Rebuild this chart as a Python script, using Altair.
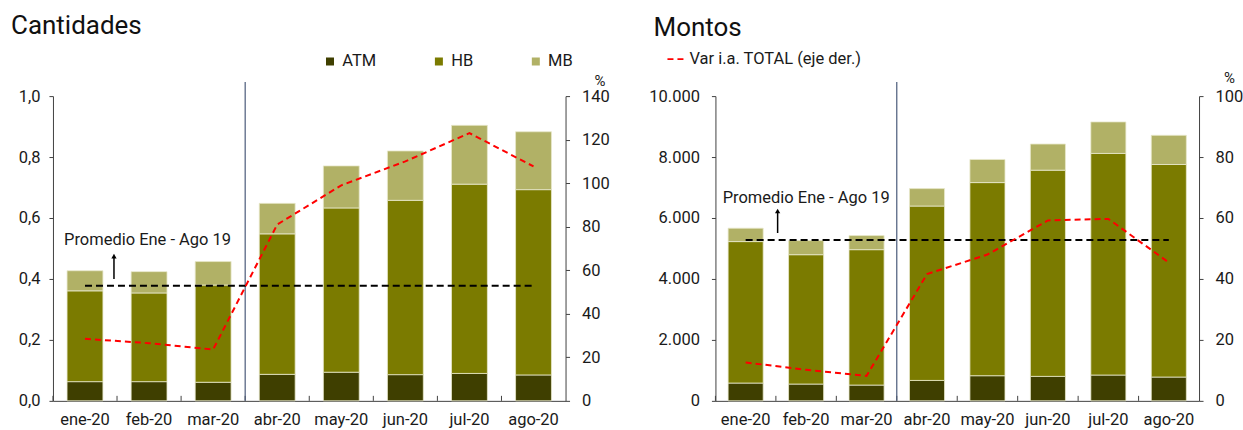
import altair as alt
import pandas as pd

meses = ["ene-20", "feb-20", "mar-20", "abr-20", "may-20", "jun-20", "jul-20", "ago-20"]
series = ["ATM", "HB", "MB"]
colores = ["#3f3f00", "#7b7b00", "#b1b166"]
linea_label = "Var i.a. TOTAL (eje der.)"
promedio_label = "Promedio Ene - Ago 19"

# Cantidades (left axis) and Var i.a. (%) right axis
cant_atm = [0.063, 0.063, 0.061, 0.087, 0.094, 0.086, 0.090, 0.085]
cant_hb = [0.298, 0.291, 0.319, 0.461, 0.539, 0.572, 0.621, 0.608]
cant_mb = [0.066, 0.070, 0.077, 0.100, 0.138, 0.162, 0.193, 0.190]
cant_var = [28.5, 26.5, 23.6, 81.0, 99.0, 110.0, 123.0, 107.7]
cant_prom = 0.378

# Montos
mont_atm = [584, 551, 518, 670, 825, 803, 847, 781]
mont_hb = [4642, 4245, 4443, 5722, 6337, 6766, 7272, 6975]
mont_mb = [440, 463, 463, 572, 759, 858, 1034, 957]
mont_var = [12.6, 10.2, 8.2, 41.6, 48.0, 59.2, 59.7, 45.4]
mont_prom = 5280

FONT = "Roboto"
TXT = "#1a1a1a"
AX = "#404040"
FS = 16.5


def panel(atm, hb, mb, var, prom, ymax, ystep, y2max, lab_expr, w, h, pi,
          title, title_dx, title_off, ann_y, arr_lo, arr_hi, arr_dx, txt_dx, pct_x, pct_y,
          lpad_left, lpad_right):
    bars_df = pd.DataFrame({
        "mes": meses * 3,
        "serie": [s for s in series for _ in meses],
        "valor": atm + hb + mb,
        "orden": [i for i in range(3) for _ in meses],
    })
    step = w / len(meses)
    xscale = alt.Scale(domain=meses, paddingInner=pi, paddingOuter=pi / 2)
    xaxis = alt.Axis(title=None, labelAngle=0, ticks=False, tickSize=0, labelPadding=11,
                     domainColor=AX, labelFontSize=FS, labelColor=TXT)

    def X(**kw):
        return alt.X("mes:N", scale=xscale, sort=meses, axis=xaxis, **kw)

    yscale = alt.Scale(domain=[0, ymax], nice=False)
    yvals = [round(i * ystep, 6) for i in range(int(round(ymax / ystep)) + 1)]
    yaxis = alt.Axis(orient="left", title=None, values=yvals, labelExpr=lab_expr, grid=False,
                     tickSize=4, labelPadding=lpad_left, domainColor=AX, tickColor=AX,
                     labelFontSize=FS, labelColor=TXT)

    def Y(field, **kw):
        return alt.Y(field, scale=yscale, axis=yaxis, **kw)

    color = alt.Color("serie:N", scale=alt.Scale(domain=series, range=colores),
                      legend=alt.Legend(title=None, orient="none", legendX=269, legendY=-43,
                                        direction="horizontal", symbolType="square",
                                        symbolSize=64, labelOffset=4, columnPadding=54,
                                        labelFontSize=FS, labelColor=TXT, padding=0,
                                        symbolStrokeWidth=0))

    bars = alt.Chart(bars_df).mark_bar(stroke="#e9e9cc", strokeWidth=0.8).encode(
        x=X(),
        y=Y("valor:Q", stack="zero"),
        color=color,
        order=alt.Order("orden:Q"),
    )

    mes_df = pd.DataFrame({"mes": meses})
    ticks = alt.Chart(mes_df).mark_rule(color=AX, strokeWidth=1, xOffset=-step * pi / 2).encode(
        x=X(bandPosition=0), y=alt.value(h), y2=alt.value(h - 5))

    sep_df = pd.DataFrame({"mes": ["abr-20"]})
    sep = alt.Chart(sep_df).mark_rule(color="#4a5a7a", strokeWidth=1.2,
                                      xOffset=-step * pi / 2).encode(
        x=X(bandPosition=0), y=alt.value(-14), y2=alt.value(h))

    prom_df = pd.DataFrame({"mes": [meses[0], meses[-1]], "prom": [prom, prom]})
    prom_line = alt.Chart(prom_df).mark_line(color="black", strokeWidth=2, strokeDash=[7, 4]).encode(
        x=X(), y=Y("prom:Q"))

    ann_df = pd.DataFrame({"mes": [meses[0]], "y": [ann_y], "t": [promedio_label],
                           "lo": [arr_lo], "hi": [arr_hi]})
    ann = alt.Chart(ann_df).mark_text(align="left", baseline="middle", dx=txt_dx, fontSize=FS,
                                      color=TXT, font=FONT).encode(
        x=X(), y=Y("y:Q"), text="t:N")
    arrow = alt.Chart(ann_df).mark_rule(color="black", strokeWidth=1.5, xOffset=arr_dx).encode(
        x=X(), y=Y("lo:Q"), y2="hi:Q")
    head = alt.Chart(ann_df).mark_point(shape="triangle-up", filled=True, size=28, color="black",
                                        opacity=1, xOffset=arr_dx).encode(
        x=X(), y=Y("hi:Q"))

    var_df = pd.DataFrame({"mes": meses, "var": var, "lab": [linea_label] * len(meses)})
    line = alt.Chart(var_df).mark_line(color="#ff0000", strokeWidth=2).encode(
        x=X(),
        y=alt.Y("var:Q", scale=alt.Scale(domain=[0, y2max], nice=False),
                axis=alt.Axis(orient="right", title="%", titleAngle=0, titleX=pct_x, titleY=pct_y,
                              titleAlign="center", titleBaseline="middle", titleFontSize=15,
                              titleFontWeight="normal", titleColor=TXT,
                              values=list(range(0, y2max + 1, 20)),
                              grid=False, tickSize=4, labelPadding=lpad_right, domainColor=AX,
                              tickColor=AX, labelFontSize=FS, labelColor=TXT)),
        strokeDash=alt.StrokeDash("lab:N", scale=alt.Scale(domain=[linea_label], range=[[6, 4]]),
                                  legend=alt.Legend(title=None, orient="none", legendX=614,
                                                    legendY=-46, symbolType="stroke",
                                                    symbolStrokeColor="#ff0000", symbolStrokeWidth=2,
                                                    symbolSize=256, labelOffset=5, labelFontSize=FS,
                                                    labelLimit=400, labelColor=TXT, padding=0)),
    )

    left_group = alt.layer(bars, ticks, sep, prom_line, ann, arrow, head)
    chart = alt.layer(left_group, line).resolve_scale(y="independent").properties(
        width=w, height=h,
        title=alt.Title(title, anchor="start", frame="group", fontSize=26, fontWeight="normal",
                        font=FONT, color="#111111", dx=title_dx, offset=title_off),
    )
    return chart


left = panel(cant_atm, cant_hb, cant_mb, cant_var, cant_prom, 1.0, 0.2, 140,
             "replace(format(datum.value, '.1f'), '.', ',')", 513, 305, 0.44,
             "Cantidades", -42, 34, 0.528, 0.40, 0.475, 29, -21, 34, -16, 9, 12)
right = panel(mont_atm, mont_hb, mont_mb, mont_var, mont_prom, 10000, 2000, 100,
              "replace(format(datum.value, ',.0f'), ',', '.')", 484, 305, 0.42,
              "Montos", -62, 29, 6656, 5508, 6230, 32, -23, 30, -19, 12, 12)

chart = alt.hconcat(left, right, spacing=150, bounds="flush").properties(
    padding={"left": 11, "top": 13, "right": 0, "bottom": 0},
).configure(font=FONT).configure_view(stroke=None)

chart.save("out.html", embed_options={"renderer": "svg", "actions": False})
